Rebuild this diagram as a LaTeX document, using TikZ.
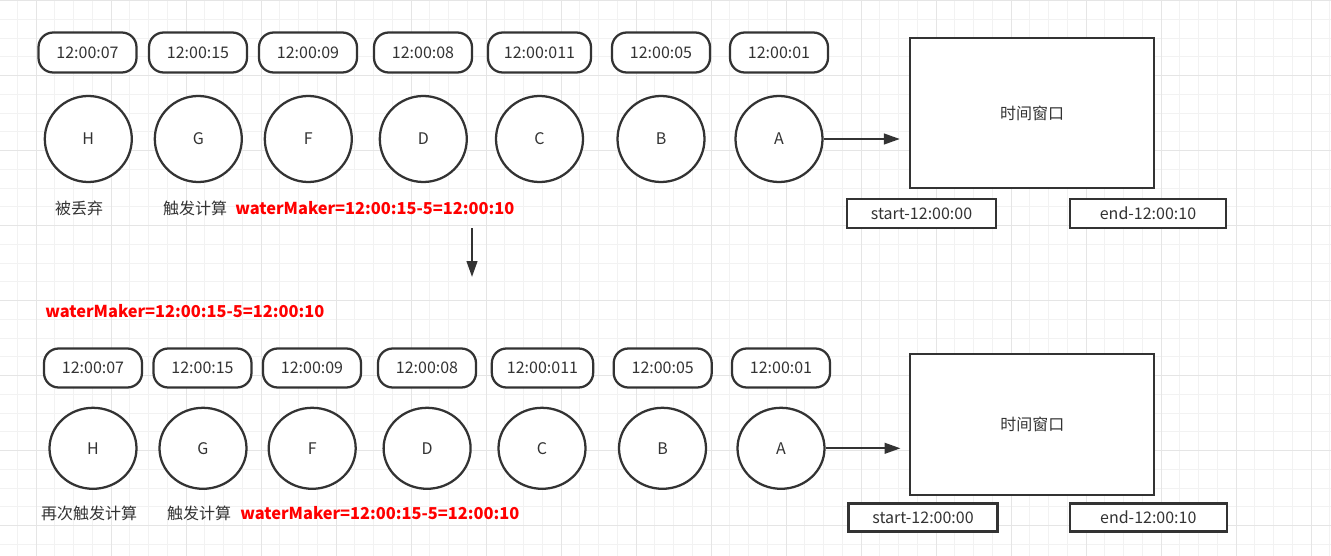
\documentclass[tikz,border=0pt]{standalone}
\usepackage{fontspec}
\setmainfont{Noto Sans CJK SC}
\usetikzlibrary{arrows.meta,positioning,shapes.geometric}

\definecolor{ink}{RGB}{51,51,51}
\definecolor{gridminor}{RGB}{242,242,242}
\definecolor{gridmajor}{RGB}{229,229,229}
\definecolor{wmred}{RGB}{255,0,0}

\begin{document}
\begin{tikzpicture}[x=0.75pt,y=-0.75pt,
  every node/.style={font=\fontsize{12}{14}\selectfont,text=ink},
  stamp/.style={draw=ink,fill=white,line width=1.7pt,rounded corners=11pt,minimum width=73.5pt,minimum height=30pt,inner sep=0pt},
  evt/.style={draw=ink,fill=white,line width=1.7pt,ellipse,minimum width=65.25pt,minimum height=64.5pt,inner sep=0pt},
  window/.style={draw=ink,fill=white,line width=1.7pt,minimum width=183pt,inner sep=0pt},
  bound/.style={draw=ink,fill=white,line width=1.7pt,minimum height=21.75pt,inner sep=0pt},
  note/.style={inner sep=0pt},
  wm/.style={inner sep=0pt,anchor=west,text=wmred,font=\fontsize{12.3}{14}\selectfont\bfseries},
  flow/.style={draw=ink,line width=1.7pt,-{Triangle[length=12pt,width=8pt]}}]
\useasboundingbox (0,0) rectangle (1331,556);

% background grid
\foreach \gx in {17.25,36,...,1331} \draw[gridminor,line width=0.75pt] (\gx,0) -- (\gx,556);
\foreach \gy in {0.7,19.45,...,556} \draw[gridminor,line width=0.75pt] (0,\gy) -- (1331,\gy);
\foreach \gx in {36,111,...,1331} \draw[gridmajor,line width=0.75pt] (\gx,0) -- (\gx,556);
\foreach \gy in {0.7,75.7,...,556} \draw[gridmajor,line width=0.75pt] (0,\gy) -- (1331,\gy);

% first state
\node[stamp] (t1h) at (87.5,52.5) {12:00:07};
\node[stamp] (t1g) at (198,52.5) {12:00:15};
\node[stamp] (t1f) at (308,52.5) {12:00:09};
\node[stamp] (t1d) at (423,52.5) {12:00:08};
\node[stamp,minimum width=77.25pt] (t1c) at (539.5,52.5) {12:00:011};
\node[stamp] (t1b) at (661,52.5) {12:00:05};
\node[stamp] (t1a) at (779,52.5) {12:00:01};

\node[evt] (c1h) at (88.3,139) {H};
\node[evt] (c1g) at (198.3,139) {G};
\node[evt] (c1f) at (308.3,139) {F};
\node[evt] (c1d) at (423.3,139) {D};
\node[evt] (c1c) at (539.5,139) {C};
\node[evt] (c1b) at (661,139) {B};
\node[evt] (c1a) at (779,139) {A};

\node[window,minimum height=112.5pt] (win1) at (1032,113) {时间窗口};
\node[bound,minimum width=111.75pt] (s1) at (921.5,213.5) {start-12:00:00};
\node[bound,minimum width=117.5pt] (e1) at (1148,213.5) {end-12:00:10};

\node[note] (drop1) at (79,208) {被丢弃};
\node[note] (fire1) at (195,208) {触发计算};
\node[wm] (wm1) at (235,208) {waterMaker=12:00:15-5=12:00:10};

\draw[flow,shorten >=6.75pt] (c1a.east) -- (c1a.east -| win1.west);

% step down
\coordinate (down1) at (472,228);
\coordinate (down2) at (472,277);
\draw[flow] (down1) -- (down2);

\node[wm] (wm2) at (45,311) {waterMaker=12:00:15-5=12:00:10};

% second state
\node[stamp,minimum height=29.25pt] (t2h) at (93,368) {12:00:07};
\node[stamp,minimum height=29.25pt] (t2g) at (202.5,368) {12:00:15};
\node[stamp,minimum height=29.25pt] (t2f) at (312,368) {12:00:09};
\node[stamp,minimum height=29.25pt] (t2d) at (427,368) {12:00:08};
\node[stamp,minimum height=29.25pt,minimum width=76pt] (t2c) at (542.5,368) {12:00:011};
\node[stamp,minimum height=29.25pt] (t2b) at (662.7,368) {12:00:05};
\node[stamp,minimum height=29.25pt] (t2a) at (781,368) {12:00:01};

\node[evt,minimum height=60.75pt] (c2h) at (93,448.3) {H};
\node[evt,minimum height=60.75pt] (c2g) at (203,448.3) {G};
\node[evt,minimum height=60.75pt] (c2f) at (312.2,448.3) {F};
\node[evt,minimum height=60.75pt] (c2d) at (427.1,448.3) {D};
\node[evt,minimum height=60.75pt] (c2c) at (542,448.3) {C};
\node[evt,minimum height=60.75pt] (c2b) at (662.5,448.3) {B};
\node[evt,minimum height=60.75pt] (c2a) at (781,448.3) {A};

\node[window,minimum height=105.75pt] (win2) at (1032.3,424.2) {时间窗口};
\node[bound,minimum width=111.75pt,minimum height=21pt] (s2) at (923,517.5) {start-12:00:00};
\node[bound,minimum width=117.75pt,minimum height=21pt] (e2) at (1148.3,517.5) {end-12:00:10};

\node[note] (again2) at (89,513) {再次触发计算};
\node[note] (fire2) at (199,513) {触发计算};
\node[wm] (wm3) at (240,513) {waterMaker=12:00:15-5=12:00:10};

\draw[flow,shorten >=6.5pt] (c2a.east) -- (c2a.east -| win2.west);
\end{tikzpicture}
\end{document}
